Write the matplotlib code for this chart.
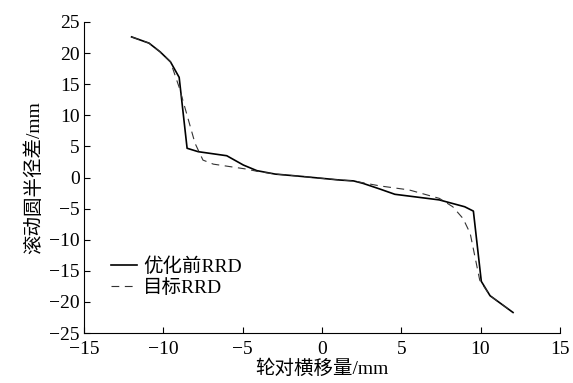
import numpy as np
import matplotlib
matplotlib.use("Agg")
import matplotlib.pyplot as plt

plt.rcParams['font.family'] = ['Liberation Serif', 'Noto Sans CJK SC']
plt.rcParams['axes.unicode_minus'] = True

# 优化前RRD (实线)
x_before = [-12.0, -10.9, -10.2, -9.55, -9.0, -8.5, -7.8, -6.0, -4.95, -4.1, -2.95,
            -1.6, 1.1, 2.0, 2.6, 3.65, 4.6, 7.4, 9.0, 9.55, 10.05, 10.6, 12.05]
y_before = [22.6, 21.6, 20.2, 18.6, 16.1, 4.7, 4.15, 3.5, 2.0, 1.1, 0.55,
            0.25, -0.4, -0.55, -0.95, -1.85, -2.7, -3.6, -4.7, -5.4, -16.7, -19.0, -21.7]

# 目标RRD (虚线)
x_target = [-12.0, -10.9, -10.2, -9.55, -9.0, -8.0, -7.5, -6.85, -4.75, -4.1, -2.95,
            -1.6, 1.1, 2.0, 2.6, 3.65, 5.5, 7.4, 8.25, 8.9, 9.35, 9.95, 10.6, 12.05]
y_target = [22.6, 21.6, 20.2, 18.6, 14.5, 5.5, 2.8, 2.15, 1.35, 1.0, 0.55,
            0.25, -0.4, -0.55, -0.85, -1.35, -2.0, -3.35, -4.7, -6.6, -9.0, -16.5, -19.0, -21.7]

fig = plt.figure(figsize=(5.73, 3.83), dpi=100)
ax = fig.add_axes([0.1466, 0.1305, 0.8304, 0.8121])

ax.plot(x_before, y_before, color='black', lw=1.2, label='优化前RRD')
ax.plot(x_target, y_target, color='#333333', lw=0.8, ls=(0, (7, 5)), label='目标RRD')

ax.set_xlim(-15, 15)
ax.set_ylim(-25, 25)
ax.set_xticks(np.arange(-15, 16, 5))
ax.set_yticks(np.arange(-25, 26, 5))
ax.tick_params(direction='in', length=4, labelsize=14, width=0.8)
ax.tick_params(axis='x', pad=6)
ax.tick_params(axis='y', pad=3)
ax.spines['top'].set_visible(False)
ax.spines['right'].set_visible(False)

ax.set_xlabel('轮对横移量/mm', fontsize=14, labelpad=1)
ax.set_ylabel('滚动圆半径差/mm', fontsize=14, labelpad=4)

ax.legend(loc='lower left', bbox_to_anchor=(0.02, 0.06), frameon=False, fontsize=14,
          handlelength=1.35, handletextpad=0.3, labelspacing=0.15)

fig.savefig('out.png', dpi=100)
